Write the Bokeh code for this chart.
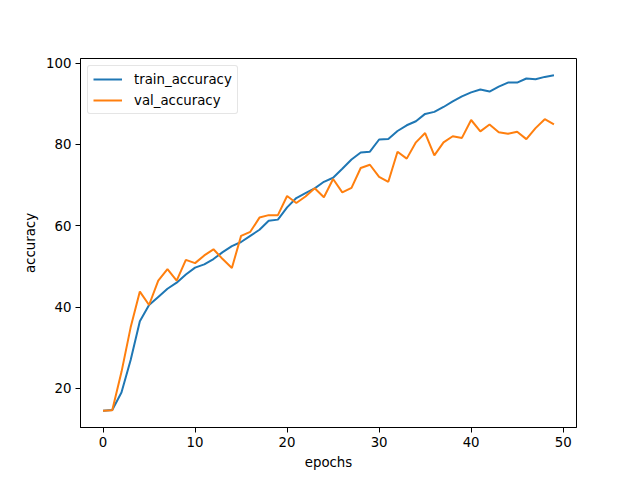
from bokeh.plotting import figure
from bokeh.models import FixedTicker, Range1d, Legend, LegendItem
from bokeh.embed import file_html
from bokeh.resources import INLINE

epochs = list(range(50))
train_accuracy = [14.5, 14.7, 19.0, 27.0, 36.5, 40.5, 42.5, 44.5, 46.0, 48.0,
                  49.7, 50.5, 51.8, 53.5, 55.0, 56.0, 57.5, 59.0, 61.2, 61.5,
                  64.5, 66.8, 68.0, 69.2, 70.8, 71.8, 74.0, 76.3, 78.0, 78.2,
                  81.2, 81.3, 83.3, 84.7, 85.7, 87.5, 88.0, 89.2, 90.6, 91.8,
                  92.8, 93.5, 93.0, 94.2, 95.2, 95.2, 96.2, 96.0, 96.6, 97.0]
val_accuracy = [14.5, 14.6, 24.0, 35.0, 43.8, 40.5, 46.5, 49.3, 46.5, 51.6,
                50.8, 52.7, 54.2, 51.8, 49.6, 57.5, 58.5, 62.0, 62.6, 62.6,
                67.3, 65.6, 67.2, 69.2, 67.0, 71.5, 68.2, 69.3, 74.2, 75.0,
                72.0, 70.8, 78.2, 76.5, 80.5, 82.8, 77.3, 80.5, 82.0, 81.6,
                86.0, 83.2, 84.9, 83.0, 82.6, 83.1, 81.3, 84.0, 86.2, 84.9]
x_ticks = [0, 10, 20, 30, 40, 50]
y_ticks = [20, 40, 60, 80, 100]

allv = train_accuracy + val_accuracy
ymin, ymax = min(allv), max(allv)
ypad = (ymax - ymin) * 0.05
xpad = (epochs[-1] - epochs[0]) * 0.05

p = figure(width=632, height=472, output_backend="svg", toolbar_location=None,
           x_range=Range1d(epochs[0] - xpad, epochs[-1] + xpad),
           y_range=Range1d(ymin - ypad, ymax + ypad),
           min_border_left=80, min_border_right=56, min_border_top=58, min_border_bottom=45)

r1 = p.line(epochs, train_accuracy, line_color="#1f77b4", line_width=2)
r2 = p.line(epochs, val_accuracy, line_color="#ff7f0e", line_width=2)

p.xgrid.visible = False
p.ygrid.visible = False
p.outline_line_color = "black"
p.outline_line_width = 1
p.outline_line_alpha = 1

for ax, ticks, lab in ((p.xaxis[0], x_ticks, "epochs"), (p.yaxis[0], y_ticks, "accuracy")):
    ax.ticker = FixedTicker(ticks=ticks)
    ax.axis_label = lab
    ax.axis_label_text_font = "DejaVu Sans"
    ax.axis_label_text_font_size = "13.33px"
    ax.axis_label_text_font_style = "normal"
    ax.axis_label_text_color = "black"
    ax.major_label_text_font = "DejaVu Sans"
    ax.major_label_text_font_size = "13.33px"
    ax.major_label_text_color = "black"
    ax.major_tick_in = 0
    ax.major_tick_out = 5
    ax.major_tick_line_color = "black"
    ax.minor_tick_line_color = None
    ax.axis_line_color = "black"
    ax.major_label_standoff = 4
    ax.axis_label_standoff = 5

legend = Legend(items=[LegendItem(label="train_accuracy", renderers=[r1]),
                       LegendItem(label="val_accuracy", renderers=[r2])],
                location="top_left")
legend.label_text_font = "DejaVu Sans"
legend.label_text_font_size = "13.33px"
legend.label_text_color = "black"
legend.glyph_width = 29
legend.glyph_height = 16
legend.label_standoff = 12
legend.label_height = 16
legend.spacing = 5
legend.padding = 5
legend.margin = 7
legend.border_line_color = "#cccccc"
legend.border_line_width = 1
legend.background_fill_alpha = 0.8
legend.border_radius = 3
p.add_layout(legend)

open("out.html", "w").write(file_html(p, INLINE))
